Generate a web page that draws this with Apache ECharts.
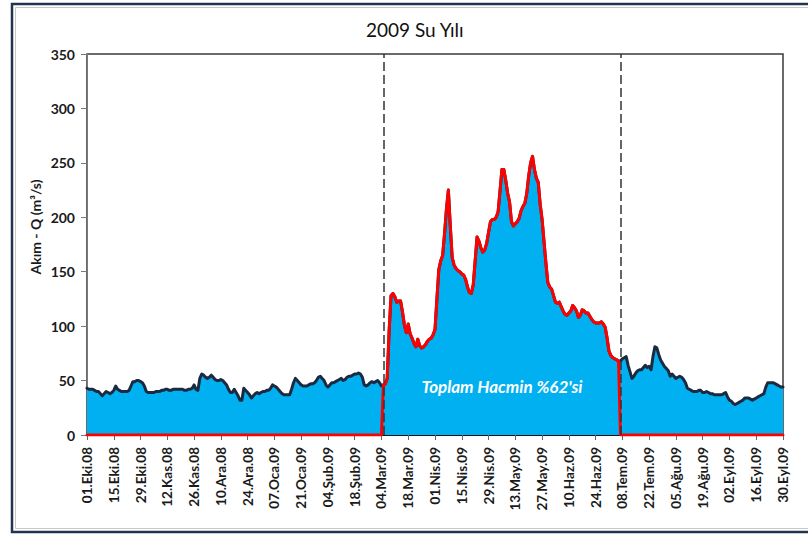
<!DOCTYPE html>
<html>
<head>
<meta charset="utf-8">
<script src="https://cdn.jsdelivr.net/npm/echarts@6/dist/echarts.min.js"></script>
<style>
  html, body { margin: 0; padding: 0; background: #fff; }
  #chart { width: 808px; height: 535px; }
</style>
</head>
<body>
<div id="chart"></div>
<script>
// günlük akım, 01.10.2008 - 30.09.2009 (m3/s), 14 gün / satır
var flow = [
  43,42,42,42,41,40,40,38,36,38,40,39,38,39,
  41,45,42,41,40,40,40,40,41,45,49,49,50,50,
  49,48,45,40,39,39,39,39,40,40,40,41,41,42,
  42,41,41,42,42,42,42,42,42,41,41,42,42,43,
  46,42,41,52,56,55,53,52,53,55,53,51,50,50,
  51,50,48,46,42,39,39,42,39,36,32,32,43,41,
  39,37,34,36,38,39,38,39,40,40,41,41,43,46,
  45,44,42,40,38,37,37,37,37,42,48,52,50,48,
  46,45,45,45,46,47,47,48,50,53,54,52,50,46,
  44,46,48,48,49,50,51,52,50,51,53,54,54,55,
  56,56,57,56,53,46,45,46,48,49,48,49,50,48,
  45,46,47,52,95,128,130,127,122,123,123,113,101,94,
  102,93,89,84,81,88,82,80,81,83,86,88,89,92,
  97,125,152,160,165,185,208,225,192,163,156,153,151,150,
  148,147,143,136,131,130,138,160,182,178,172,168,170,176,
  186,196,198,198,200,205,224,244,244,234,222,214,196,192,
  194,196,199,206,210,213,222,238,250,256,244,236,232,212,
  198,178,158,140,136,134,128,122,121,122,118,114,111,110,
  112,114,119,117,114,108,110,115,114,112,112,109,106,104,
  103,103,103,104,102,99,89,77,73,71,70,69,68,68,
  70,71,72,64,58,52,54,57,59,60,60,62,64,62,
  63,60,72,81,80,74,69,66,63,61,59,54,56,54,
  52,53,54,53,51,48,43,42,41,40,40,40,41,41,
  39,39,40,39,38,38,37,37,37,37,37,38,39,35,
  32,31,29,28,29,30,31,32,34,34,34,33,32,33,
  34,35,36,37,38,44,48,48,48,48,47,46,45,44,
  44
];

// toplam hacmin %62'si olan dönem (gün sırası)
var redStart = 155;
var redEnd = 278;

var months = ['Oca','Şub','Mar','Nis','May','Haz','Tem','Ağu','Eyl','Eki','Kas','Ara'];
var yTicks = [0, 50, 100, 150, 200, 250, 300, 350];

var days = [];
var start = Date.UTC(2008, 9, 1);
for (var i = 0; i < flow.length; i++) {
  var d = new Date(start + i * 86400000);
  var dd = ('0' + d.getUTCDate()).slice(-2);
  var yy = ('' + d.getUTCFullYear()).slice(-2);
  days.push(dd + '.' + months[d.getUTCMonth()] + '.' + yy);
}

var redPart = flow.map(function (v, i) {
  return (i >= redStart && i <= redEnd) ? v : 0;
});

var font = 'Lato, "Open Sans", sans-serif';

var chart = echarts.init(document.getElementById('chart'), null, { renderer: 'svg' });
chart.setOption({
  animation: false,
  title: {
    text: '2009 Su Yılı',
    left: 366,
    top: 20,
    padding: 0,
    textStyle: { fontFamily: font, fontSize: 19, fontWeight: 'normal', color: '#111' }
  },
  grid: {
    left: 87, right: 25, top: 54, bottom: 100,
    show: true, borderColor: '#3a3a3a', borderWidth: 1.5,
    outerBoundsMode: 'none'
  },
  xAxis: {
    type: 'category',
    data: days,
    boundaryGap: false,
    axisLine: { lineStyle: { color: '#111', width: 2 } },
    axisTick: { show: true, interval: 13, length: 5, lineStyle: { color: '#666' } },
    axisLabel: {
      interval: 13, rotate: 90, margin: 12,
      fontFamily: font, fontSize: 13.5, fontWeight: 'bold', color: '#1a1a1a'
    },
    splitLine: { show: false }
  },
  yAxis: {
    type: 'value',
    min: yTicks[0],
    max: yTicks[yTicks.length - 1],
    interval: 50,
    axisLine: { show: true, lineStyle: { color: '#7a7a7a' } },
    axisTick: { show: true, length: 6, lineStyle: { color: '#7a7a7a' } },
    axisLabel: { margin: 12, fontFamily: font, fontSize: 14, fontWeight: 'bold', color: '#1a1a1a' },
    splitLine: { show: false }
  },
  series: [
    {
      name: 'Akım',
      type: 'line',
      data: flow,
      symbol: 'none',
      z: 2,
      lineStyle: { color: '#1b2a41', width: 3, join: 'round', cap: 'round' },
      areaStyle: { color: '#00b0f0', opacity: 1 },
      markLine: {
        silent: true,
        symbol: 'none',
        label: { show: false },
        lineStyle: { color: '#333', width: 1.5, type: [9, 4] },
        data: [{ xAxis: days[redStart] }, { xAxis: days[redEnd + 1] }]
      }
    },
    {
      name: '%62',
      type: 'line',
      data: redPart,
      symbol: 'none',
      z: 3,
      lineStyle: { color: '#ff0000', width: 3, join: 'round', cap: 'round' }
    }
  ],
  graphic: [
    {
      type: 'rect', silent: true,
      shape: { x: 12, y: 4, width: 830, height: 528 },
      style: { fill: 'none', stroke: '#1f3550', lineWidth: 2.5 }
    },
    {
      type: 'rect', silent: true,
      shape: { x: 15.5, y: 7.5, width: 830, height: 521 },
      style: { fill: 'none', stroke: '#c8c8c8', lineWidth: 1 }
    },
    {
      type: 'text', silent: true, z: 10,
      x: 35, y: 227, rotation: Math.PI / 2,
      style: {
        text: 'Akım - Q (m³/s)', align: 'center', verticalAlign: 'middle',
        font: 'bold 14px ' + font, fill: '#1a1a1a'
      }
    },
    {
      type: 'text', silent: true, z: 10,
      x: 502, y: 386,
      style: {
        text: "Toplam Hacmin %62'si", align: 'center', verticalAlign: 'middle',
        font: 'italic bold 17px ' + font, fill: '#ffffff'
      }
    }
  ]
});
</script>
</body>
</html>
